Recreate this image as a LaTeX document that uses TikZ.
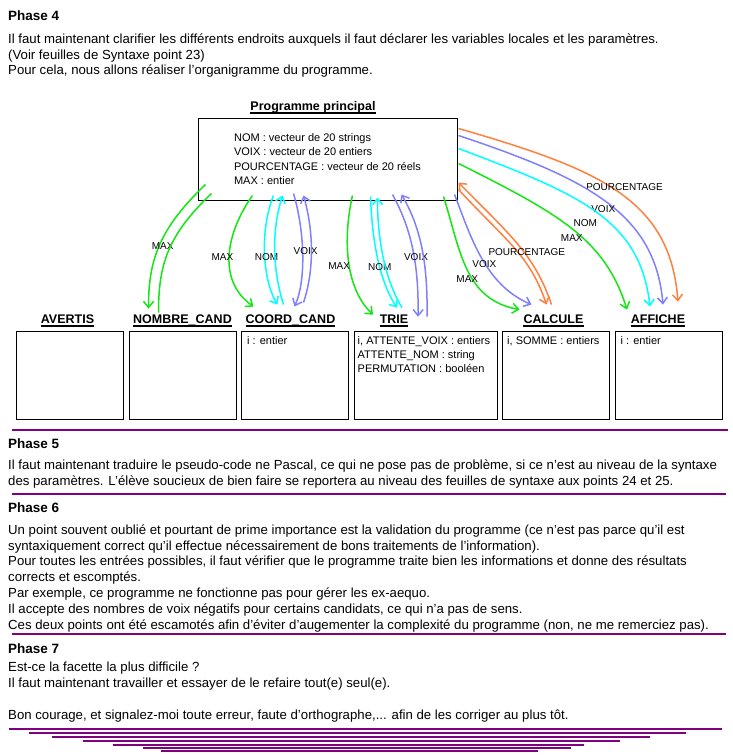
\documentclass[tikz,border=0pt]{standalone}
\usepackage{fontspec}
\setmainfont{Liberation Sans}
\usepackage{xcolor}
\usetikzlibrary{arrows.meta,positioning}

\definecolor{vertmax}{RGB}{20,230,20}
\definecolor{cyannom}{RGB}{0,255,255}
\definecolor{bleuvoix}{RGB}{128,128,255}
\definecolor{orangepct}{RGB}{255,128,64}
\definecolor{prune}{RGB}{128,0,128}

\begin{document}
\begin{tikzpicture}[
  x=1pt, y=-1pt,
  node distance=4.5pt,
  every node/.style={font=\fontsize{13.2}{15.8}\selectfont},
  phase/.style={anchor=base west, inner sep=0pt, font=\bfseries\fontsize{13.5}{16}\selectfont},
  texte/.style={anchor=north west, inner sep=0pt, align=left},
  titre/.style={anchor=base, inner sep=0pt, font=\bfseries\fontsize{12.5}{14}\selectfont,
    append after command={([yshift=-2.5pt]\tikzlastnode.base west) edge[line width=1.3pt] ([yshift=-2.5pt]\tikzlastnode.base east)}},
  principal/.style={rectangle, draw, line width=1pt, minimum width=259pt, minimum height=82pt, align=left, font=\fontsize{11}{14.3}\selectfont},
  sousprog/.style={rectangle, draw, line width=1pt, minimum width=107pt, minimum height=88pt},
  decl/.style={anchor=north west, inner sep=0pt, align=left, font=\fontsize{11}{14}\selectfont},
  etiq/.style={font=\fontsize{10}{12}\selectfont, inner sep=0pt, text=black},
  fleche/.style={-{Straight Barb[length=6pt,width=10pt]}, line width=1.5pt},
  trait/.style={line width=1.5pt},
  sep/.style={draw=prune, line width=1.2pt}
]
\path[use as bounding box, fill=white] (0,0) rectangle (732,755);

% Phase 4
\node[phase] (phase4) at (8,20) {Phase 4};
\node[texte] (texte4) at (8,33.4) {Il faut maintenant clarifier les différents endroits auxquels il faut déclarer les variables locales et les paramètres.\\(Voir feuilles de Syntaxe point 23)\\Pour cela, nous allons réaliser l'organigramme du programme.};

% Programme principal
\node[titre] (tprog) at (313,110.5) {Programme principal};
\node[principal] (prog) at (327.5,159) {NOM : vecteur de 20 strings\\VOIX : vecteur de 20 entiers\\POURCENTAGE : vecteur de 20 réels\\MAX : entier};

% Sous-programmes
\node[sousprog, anchor=north west] (bavertis) at (16,331) {};
\node[sousprog, right=of bavertis] (bnombre) {};
\node[sousprog, right=of bnombre] (bcoord) {};
\node[sousprog, right=of bcoord, minimum width=143pt] (btrie) {};
\node[sousprog, right=of btrie] (bcalcule) {};
\node[sousprog, right=of bcalcule] (baffiche) {};

\node[titre] (tavertis) at ([shift={(-2.5,-7.5)}]bavertis.north) {AVERTIS};
\node[titre] (tnombre) at ([shift={(0,-7.5)}]bnombre.north) {NOMBRE\_CAND};
\node[titre] (tcoord) at ([shift={(-4.5,-7.5)}]bcoord.north) {COORD\_CAND};
\node[titre] (ttrie) at ([shift={(-31.5,-7.5)}]btrie.north) {TRIE};
\node[titre] (tcalcule) at ([shift={(-2.5,-7.5)}]bcalcule.north) {CALCULE};
\node[titre] (taffiche) at ([shift={(-10.5,-7.5)}]baffiche.north) {AFFICHE};

\node[decl] (dcoord) at ([shift={(6,5.5)}]bcoord.north west) {i : entier};
\node[decl] (dtrie) at ([shift={(4,5.5)}]btrie.north west) {i, ATTENTE\_VOIX : entiers\\ATTENTE\_NOM : string\\PERMUTATION : booléen};
\node[decl] (dcalcule) at ([shift={(5,5.5)}]bcalcule.north west) {i, SOMME : entiers};
\node[decl] (daffiche) at ([shift={(6,5.5)}]baffiche.north west) {i : entier};

% Vers NOMBRE_CAND
\draw[fleche, vertmax] ([shift={(8,-16)}]prog.south west) .. controls +(-46,44) and +(0,-49) .. ([shift={(-34,-6)}]tnombre.north) node[etiq, pos=.5, xshift=3pt, yshift=-1pt] {MAX};
\draw[trait, vertmax] ([shift={(-24,-2)}]tnombre.north) .. controls +(0,-48) and +(-44,42) .. ([shift={(14,-7)}]prog.south west);

% Vers COORD_CAND
\draw[fleche, vertmax] ([shift={(55,-5)}]prog.south west) .. controls +(-25,35) and +(-38,-27) .. ([shift={(-37,-8)}]tcoord.north) node[etiq, pos=.5, xshift=-7pt, yshift=-3pt] {MAX};
\draw[fleche, cyannom] ([shift={(76,-5)}]prog.south west) .. controls +(-14,35) and +(-15,-25) .. ([shift={(-13,-10)}]tcoord.north) node[etiq, pos=.5, xshift=2pt, yshift=-3pt] {NOM};
\draw[fleche, cyannom] ([shift={(-7,-10)}]tcoord.north) .. controls +(-11,-35) and +(-11,35) .. ([shift={(85,-5)}]prog.south west);
\draw[fleche, bleuvoix] ([shift={(96,-7)}]prog.south west) .. controls +(11,37) and +(12,-27) .. ([shift={(4,-8)}]tcoord.north) node[etiq, pos=.5, xshift=3pt, yshift=3pt] {VOIX};
\draw[fleche, bleuvoix] ([shift={(13,-12)}]tcoord.north) .. controls +(11,-33) and +(10,35) .. ([shift={(106,-5)}]prog.south west);

% Vers TRIE
\draw[fleche, vertmax] ([shift={(155,-5)}]prog.south west) .. controls +(-8,35) and +(-31,-30) .. ([shift={(-21,0)}]ttrie.north) node[etiq, pos=.5, xshift=-9pt, yshift=-9pt] {MAX};
\draw[fleche, cyannom] ([shift={(173,-4)}]prog.south west) .. controls +(2,54) and +(-15,-23) .. ([shift={(3,-7)}]ttrie.north) node[etiq, pos=.5, xshift=1pt, yshift=-3pt] {NOM};
\draw[fleche, cyannom] ([shift={(8,-7)}]ttrie.north) .. controls +(-17,-28) and +(0,43) .. ([shift={(180,-3)}]prog.south west);
\draw[fleche, bleuvoix] ([shift={(195,-6)}]prog.south west) .. controls +(17,31) and +(1,-57) .. ([shift={(24,2)}]ttrie.north) node[etiq, pos=.5, xshift=4pt, yshift=-11pt] {VOIX};
\draw[fleche, bleuvoix] ([shift={(33,2)}]ttrie.north) .. controls +(1,-57) and +(18,31) .. ([shift={(204,-6)}]prog.south west);

% Vers CALCULE
\draw[fleche, vertmax] ([shift={(-14,-4)}]prog.south east) .. controls +(17,54) and +(-55,-10) .. ([shift={(-34,-5)}]tcalcule.north) node[etiq, pos=.5, yshift=-10pt] {MAX};
\draw[fleche, bleuvoix] ([shift={(-3,-6)}]prog.south east) .. controls +(16,41) and +(-47,-20) .. ([shift={(-22,-10)}]tcalcule.north) node[etiq, pos=.5, xshift=3pt, yshift=-7pt] {VOIX};
\draw[fleche, orangepct] ([shift={(-2,-10)}]tcalcule.north) .. controls +(-17,-50) and +(52,53) .. ([shift={(1,-18)}]prog.south east);
\draw[fleche, orangepct] ([shift={(1,-11)}]prog.south east) .. controls +(47,51) and +(-17,-50) .. ([shift={(-7,-10)}]tcalcule.north) node[etiq, pos=.5, xshift=13pt, yshift=-5pt] {POURCENTAGE};

% Vers AFFICHE
\draw[fleche, orangepct] ([shift={(1,11)}]prog.north east) .. controls +(142,41) and +(-8,-102) .. ([shift={(20,-13)}]taffiche.north) node[etiq, pos=.5, xshift=6pt, yshift=5pt] {POURCENTAGE};
\draw[fleche, bleuvoix] ([shift={(1,18)}]prog.north east) .. controls +(132,44) and +(-8,-90) .. ([shift={(5,-10)}]taffiche.north) node[etiq, pos=.5, xshift=-4pt, yshift=-6pt] {VOIX};
\draw[fleche, cyannom] ([shift={(1,31)}]prog.north east) .. controls +(122,46) and +(-10,-87) .. ([shift={(-8,-8)}]taffiche.north) node[etiq, pos=.5, xshift=-11pt, yshift=-11pt] {NOM};
\draw[fleche, vertmax] ([shift={(1,46)}]prog.north east) .. controls +(102,51) and +(-22,-70) .. ([shift={(-31,-5)}]taffiche.north) node[etiq, pos=.5, xshift=-1pt, yshift=-9pt] {MAX};

% Phase 5
\draw[sep] (12,430) -- (728,430);
\node[phase] (phase5) at (8,448) {Phase 5};
\node[texte] (texte5) at (8,459.9) {Il faut maintenant traduire le pseudo-code ne Pascal, ce qui ne pose pas de problème, si ce n'est au niveau de la syntaxe\\des paramètres. L'élève soucieux de bien faire se reportera au niveau des feuilles de syntaxe aux points 24 et 25.};

% Phase 6
\draw[sep] (12,494) -- (726,494);
\node[phase] (phase6) at (8,512) {Phase 6};
\node[texte] (texte6) at (8,524.4) {Un point souvent oublié et pourtant de prime importance est la validation du programme (ce n'est pas parce qu'il est\\syntaxiquement correct qu'il effectue nécessairement de bons traitements de l'information).\\Pour toutes les entrées possibles, il faut vérifier que le programme traite bien les informations et donne des résultats\\corrects et escomptés.\\Par exemple, ce programme ne fonctionne pas pour gérer les ex-aequo.\\Il accepte des nombres de voix négatifs pour certains candidats, ce qui n'a pas de sens.\\Ces deux points ont été escamotés afin d'éviter d'augementer la complexité du programme (non, ne me remerciez pas).};

% Phase 7
\draw[sep] (12,634) -- (726,634);
\node[phase] (phase7) at (8,653) {Phase 7};
\node[texte] (texte7) at (8,661.9) {Est-ce la facette la plus difficile ?\\Il faut maintenant travailler et essayer de le refaire tout(e) seul(e).\\[15.8pt]Bon courage, et signalez-moi toute erreur, faute d'orthographe,... afin de les corriger au plus tôt.};

% Traits de fin
\foreach \xa/\xb/\yy in {9/722/729, 29/686/733, 52/650/737, 83/620/741, 113/584/745, 143/571/748, 161/538/751}
  \draw[sep] (\xa,\yy) -- (\xb,\yy);

\end{tikzpicture}
\end{document}
